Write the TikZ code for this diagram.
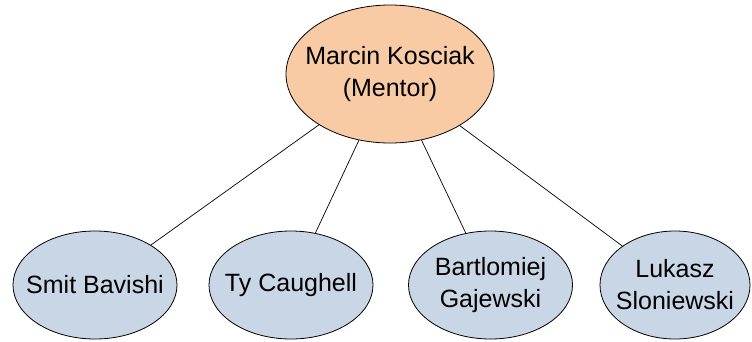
\documentclass[tikz,border=0pt]{standalone}
\usepackage{fontspec}
\setmainfont{Liberation Sans}
\usetikzlibrary{shapes.geometric}
\definecolor{mentorfill}{HTML}{F8CBA5}
\definecolor{memberfill}{HTML}{C9D6E6}
\tikzset{
  person/.style={ellipse, draw=black, line width=0.8pt, inner xsep=-60pt, inner ysep=-40pt, align=center,
    font=\fontsize{25}{32}\selectfont},
  mentor/.style={person, fill=mentorfill, minimum width=208pt, minimum height=138pt},
  member/.style={person, fill=memberfill, minimum width=164pt, minimum height=108pt},
  link/.style={draw=black, line width=0.7pt}
}
\begin{document}
\begin{tikzpicture}[x=1pt,y=-1pt]
\path[use as bounding box, fill=white] (0,0) rectangle (752,341);
\node[mentor] (m) at (390,74) {Marcin Kosciak\\(Mentor)};
\node[member] (a) at (95,285) {Smit Bavishi};
\node[member] (b) at (291,285) {Ty Caughell};
\node[member] (c) at (490.5,285) {Bartlomiej\\Gajewski};
\node[member, minimum width=150pt] (d) at (675,285) {Lukasz\\Sloniewski};
\draw[link] (m) -- (a);
\draw[link] (m) -- (b);
\draw[link] (m) -- (c);
\draw[link] (m) -- (d);
\end{tikzpicture}
\end{document}
